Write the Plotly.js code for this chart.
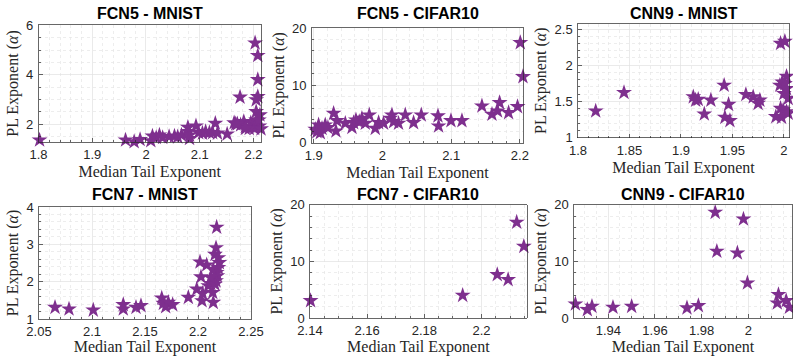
<!DOCTYPE html>
<html><head><meta charset="utf-8">
<script src="https://cdn.plot.ly/plotly-3.0.1.min.js"></script>
<style>html,body{margin:0;padding:0;background:#fff}#chart{width:793px;height:356px}</style>
</head><body><div id="chart"></div>
<script>
// ---- data ----
const titles = ["FCN5 - MNIST", "FCN5 - CIFAR10", "CNN9 - MNIST", "FCN7 - MNIST", "FCN7 - CIFAR10", "CNN9 - CIFAR10"];
const xLabel = "Median Tail Exponent";
const yLabel = "PL Exponent (<i>α</i>)";

const fcn5MnistX = [1.802,1.887,1.962,1.978,1.989,2.009,2.012,2.019,2.025,2.031,2.043,2.053,2.059,2.066,2.078,2.078,2.081,2.081,2.093,2.098,2.105,2.111,2.118,2.124,2.129,2.133,2.151,2.164,2.175,2.167,2.176,2.182,2.185,2.195,2.198,2.203,2.208,2.208,2.208,2.205,2.205,2.212,2.205,2.211,2.202,2.21,2.192,2.185,2.17,2.214];
const fcn5MnistY = [1.35,1.24,1.35,1.28,1.37,1.32,1.51,1.45,1.55,1.45,1.49,1.51,1.48,1.55,1.86,1.69,1.55,1.41,1.92,1.65,1.63,1.69,1.65,1.65,2.03,1.63,1.59,2.05,3.09,2.0,1.96,2.1,1.9,2.05,1.9,5.29,4.78,3.8,3.11,2.98,2.5,2.37,2.16,1.92,1.82,2.16,1.82,1.82,2.0,1.8];

const fcn5CifarX = [1.8964,1.9022,1.907,1.9046,1.9095,1.912,1.9167,1.9206,1.9289,1.9323,1.9337,1.9459,1.9556,1.958,1.9614,1.9662,1.9701,1.975,1.9808,1.9895,1.9944,2.0016,2.0114,2.0138,2.0162,2.0234,2.0332,2.0453,2.0565,2.0808,2.0817,2.0997,2.1157,2.1448,2.1594,2.1675,2.1705,2.1836,2.1966,2.2006,2.2045,2.2068,2.2054];
const fcn5CifarY = [2.79,2.33,3.09,1.92,1.74,2.5,3.09,2.62,5.12,2.04,3.84,3.38,2.68,3.49,3.96,3.66,4.25,3.38,4.83,2.5,3.49,3.38,4.25,4.83,3.66,3.38,4.83,3.49,4.83,4.66,2.91,3.84,3.84,6.4,4.95,5.53,6.98,5.23,6.28,17.44,11.51,9.48,7.91];

const cnn9MnistX = [1.8172,1.8447,1.912,1.9168,1.9143,1.9291,1.9227,1.942,1.9427,1.9463,1.9476,1.9631,1.9702,1.975,1.9767,1.9922,1.9968,1.9968,2.001,1.9961,1.9984,2.001,2.0026,2.0051,2.0,2.0026,2.0051,2.0042,2.0065,1.9968,1.9993,1.9978,2.0026,2.0042];
const cnn9MnistY = [1.366,1.622,1.562,1.526,1.516,1.516,1.325,1.722,1.279,1.457,1.233,1.594,1.562,1.471,1.516,1.288,2.575,2.301,2.329,1.722,1.767,1.745,1.845,1.827,1.608,1.676,1.653,1.54,1.516,1.402,1.379,1.279,1.356,1.334];

const fcn7MnistX = [2.0651,2.0783,2.1012,2.1295,2.1295,2.1415,2.1462,2.1658,2.1673,2.1695,2.172,2.1761,2.1909,2.1988,2.2019,2.2028,2.2038,2.2044,2.2082,2.2097,2.212,2.2139,2.2144,2.2144,2.2151,2.216,2.217,2.2176,2.2182,2.2192,2.2201,2.2192,2.2176,2.2182,2.217,2.216,2.212];
const fcn7MnistY = [1.311,1.266,1.239,1.383,1.266,1.311,1.356,1.559,1.418,1.33,1.444,1.383,1.577,1.798,2.527,2.128,1.489,1.684,2.447,1.888,1.949,1.71,1.444,2.33,2.109,2.729,2.907,3.457,4.016,2.641,2.508,2.375,2.242,2.154,2.021,1.931,2.11];

const fcn7CifarX = [2.1402,2.1934,2.2055,2.2093,2.2123,2.2148];
const fcn7CifarY = [3.06,4.0,7.65,6.77,16.9,12.65];

const cnn9CifarX = [1.9259,1.931,1.933,1.942,1.950,1.9737,1.9786,1.9858,1.9865,1.9953,1.9979,1.9996,2.0129,2.0124,2.0162,2.0176];
const cnn9CifarY = [2.47,1.47,2.06,1.89,2.06,1.77,2.18,18.65,11.77,11.47,17.47,6.18,4.12,2.65,3.06,1.89];

const seriesX = [fcn5MnistX, fcn5CifarX, cnn9MnistX, fcn7MnistX, fcn7CifarX, cnn9CifarX];
const seriesY = [fcn5MnistY, fcn5CifarY, cnn9MnistY, fcn7MnistY, fcn7CifarY, cnn9CifarY];

// ---- layout geometry (pixels) ----
const W = 793, H = 356;
const boxes = [
  {x0: 38.5, x1: 261, y0: 25, y1: 142},
  {x0: 311.7, x1: 523.3, y0: 28, y1: 142.7},
  {x0: 578, x1: 789, y0: 24, y1: 137.5},
  {x0: 39, x1: 251, y0: 207, y1: 319},
  {x0: 310, x1: 526.7, y0: 204.7, y1: 318},
  {x0: 574, x1: 792, y0: 204.7, y1: 318}
];
const xRanges = [[1.8, 2.214], [1.897, 2.205], [1.8, 2.005], [2.05, 2.25], [2.14, 2.2158], [1.9253, 2.0187]];
const yRanges = [[1.27, 6.02], [0, 20], [1, 2.57], [1, 4], [0, 20], [0, 20]];
const xDt = [0.1, 0.1, 0.05, 0.05, 0.02, 0.02];
const xMinor = [0.02, 0.02, 0.01, 0.01, 0.005, 0.005];
const yDt = [2, 10, 0.5, 1, 10, 10];
const yMinor = [0.5, 2, 0.1, 0.2, 2, 2];

const PURPLE = '#7E2F8E';
const AXC = '#262626';
const tickFont = {family: 'Liberation Sans, Arial, sans-serif', size: 13, color: AXC};
const labFont = {family: 'Liberation Serif, Times New Roman, serif', size: 16, color: AXC};

const data = [];
const layout = {
  width: W, height: H,
  margin: {l: 0, r: 0, t: 0, b: 0},
  paper_bgcolor: '#fff', plot_bgcolor: '#fff',
  showlegend: false,
  annotations: []
};

function axisCommon(range, dtick, minorDtick, domain, anchor) {
  return {
    domain: domain, range: range, anchor: anchor,
    dtick: dtick, tick0: 0,
    showline: true, mirror: true, linecolor: AXC, linewidth: 0.7,
    ticks: 'inside', ticklen: 4, tickcolor: AXC, tickwidth: 0.7,
    showgrid: true, gridcolor: '#e1e1e1', gridwidth: 0.7,
    zeroline: false,
    tickfont: tickFont,
    minor: {dtick: minorDtick, tick0: 0, showgrid: true, gridcolor: '#e6e6e6', griddash: 'dot', gridwidth: 0.7,
            ticks: 'inside', ticklen: 2, tickcolor: AXC},
    automargin: false
  };
}

for (let i = 0; i < 6; i++) {
  const b = boxes[i];
  const sfx = i === 0 ? '' : String(i + 1);
  const xd = [b.x0 / W, b.x1 / W];
  const yd = [1 - b.y1 / H, 1 - b.y0 / H];
  const xa = axisCommon(xRanges[i], xDt[i], xMinor[i], xd, 'y' + sfx);
  xa.ticklabelstandoff = 1;
  xa.title = {text: xLabel, font: labFont, standoff: 4};
  const ya = axisCommon(yRanges[i], yDt[i], yMinor[i], yd, 'x' + sfx);
  ya.ticklabelstandoff = 2;
  ya.title = {text: yLabel, font: labFont, standoff: 3};
  layout['xaxis' + sfx] = xa;
  layout['yaxis' + sfx] = ya;
  data.push({
    type: 'scatter', mode: 'markers',
    x: seriesX[i], y: seriesY[i],
    xaxis: 'x' + sfx, yaxis: 'y' + sfx,
    cliponaxis: false,
    marker: {symbol: 'star', size: 12, color: PURPLE, line: {width: 0}},
    hoverinfo: 'x+y'
  });
  layout.annotations.push({
    text: '<b>' + titles[i] + '</b>',
    xref: 'paper', yref: 'paper',
    x: (xd[0] + xd[1]) / 2, y: 1 - (i < 3 ? 14 : 194) / H,
    xanchor: 'center', yanchor: 'middle', showarrow: false,
    font: {family: 'Liberation Sans, Arial, sans-serif', size: 16, color: '#000'}
  });
}

Plotly.newPlot('chart', data, layout, {displayModeBar: false, staticPlot: true});
</script></body></html>
